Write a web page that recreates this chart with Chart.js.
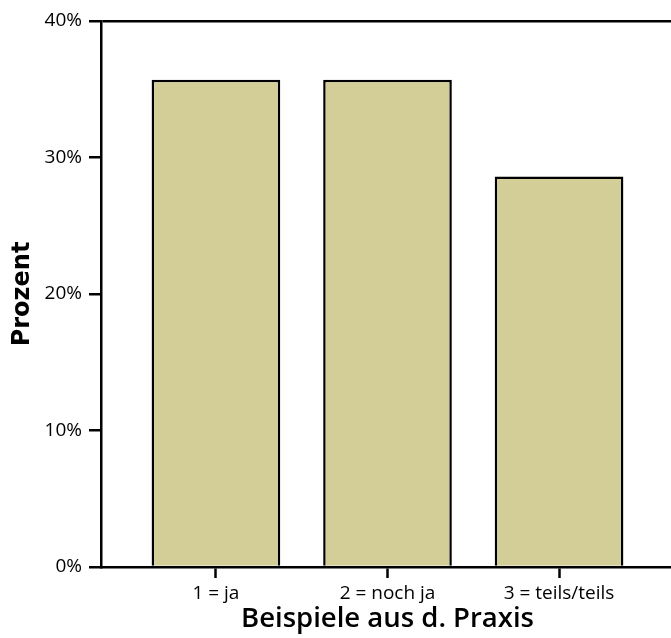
<!DOCTYPE html>
<html>
<head>
<meta charset="utf-8">
<script src="https://cdn.jsdelivr.net/npm/chart.js@4"></script>
<style>
  html, body { margin: 0; padding: 0; background: #fff; overflow: hidden; }
  #wrap { width: 676px; height: 638px; }
</style>
</head>
<body>
<div id="wrap"><canvas id="grafico"></canvas></div>
<script>
// Daten
const kategorien = ["1 = ja", "2 = noch ja", "3 = teils/teils"];
const positionen = [1, 2, 3];
const prozent = [35.7, 35.7, 28.6];
const yTicks = [0, 10, 20, 30, 40];

const schwarz = "#000";
const tickFont = { family: "'Open Sans', sans-serif", size: 19 };

const ctx = document.getElementById("grafico");
new Chart(ctx, {
  type: "bar",
  data: {
    datasets: [{
      data: positionen.map((x, i) => ({ x: x, y: prozent[i] })),
      backgroundColor: "#d3cd97",
      borderColor: schwarz,
      borderWidth: 2.5,
      barPercentage: 0.75,
      categoryPercentage: 1
    }]
  },
  options: {
    responsive: true,
    maintainAspectRatio: false,
    animation: false,
    layout: { padding: { top: 21, right: 2, left: 0, bottom: 0 } },
    plugins: { legend: { display: false }, tooltip: { enabled: false } },
    scales: {
      x: {
        type: "linear",
        offset: false,
        min: 0.33,
        max: 3.67,
        afterBuildTicks: s => { s.ticks = positionen.map(v => ({ value: v })); },
        afterFit: s => { s.height = 71; },
        ticks: {
          color: schwarz,
          font: tickFont,
          padding: 4,
          callback: v => kategorien[v - 1]
        },
        grid: {
          display: true,
          offset: false,
          drawOnChartArea: false,
          color: schwarz,
          tickLength: 11,
          tickColor: schwarz,
          tickWidth: 2.5
        },
        border: { display: true, color: schwarz, width: 2.5 },
        title: {
          display: true,
          text: "Beispiele aus d. Praxis",
          color: schwarz,
          font: { family: "'Open Sans', sans-serif", size: 27.5, weight: "600" },
          padding: { top: 0, bottom: 2 }
        }
      },
      y: {
        min: 0,
        max: 40,
        afterBuildTicks: s => { s.ticks = yTicks.map(v => ({ value: v })); },
        afterFit: s => { s.width = 101; },
        ticks: {
          color: schwarz,
          font: tickFont,
          padding: 7,
          callback: v => v + "%"
        },
        grid: {
          drawOnChartArea: true,
          // nur die 40%-Linie als oberer Rahmen
          color: c => (c.tick && c.tick.value === 40) ? schwarz : "transparent",
          lineWidth: 2.5,
          tickLength: 12,
          tickColor: schwarz,
          tickWidth: 2.5
        },
        border: { display: true, color: schwarz, width: 2.5 },
        title: {
          display: true,
          text: "Prozent",
          color: schwarz,
          font: { family: "'DejaVu Sans', sans-serif", size: 24, weight: "bold" },
          padding: { top: 8, bottom: 0 }
        }
      }
    }
  }
});
</script>
</body>
</html>
